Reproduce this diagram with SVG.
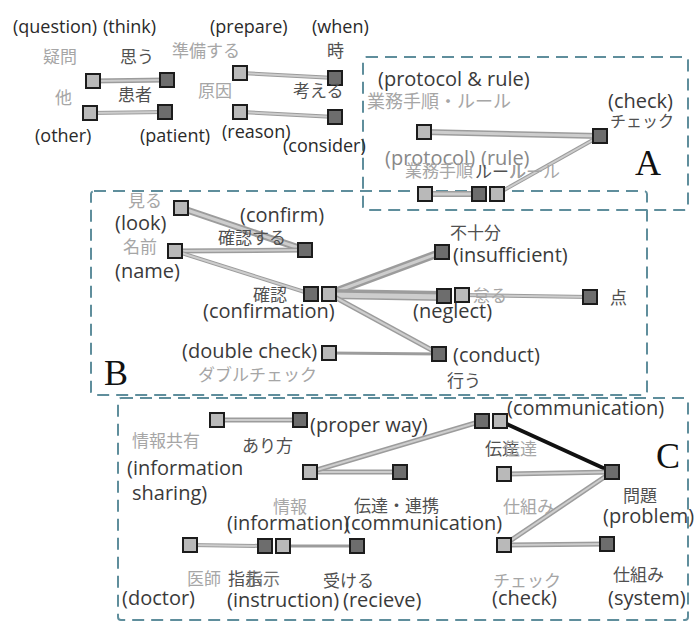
<svg xmlns="http://www.w3.org/2000/svg" width="697" height="623" viewBox="0 0 697 623">
<style>
.bg{fill:#fff}
.box{fill:none;stroke:#5f8e9c;stroke-width:2;stroke-dasharray:12 7}
.e{stroke:#9c9c9c;stroke-linecap:butt;fill:none}
.ei{stroke:#cdcdcd;fill:none}
.lt{fill:#b9b9b9;stroke:#1c1c1c;stroke-width:2}
.dk{fill:#6d6d6d;stroke:#1c1c1c;stroke-width:2}
.en{font-family:"Open Sans","Liberation Sans",sans-serif;font-size:20px;fill:#3a3a3a}
.en18{font-family:"Open Sans","Liberation Sans",sans-serif;font-size:18px;fill:#2a2a2a}
.jl{font-family:"Noto Sans CJK JP","Noto Sans",sans-serif;font-size:17px;fill:#a6a6a6}
.jd{font-family:"Noto Sans CJK JP","Noto Sans",sans-serif;font-size:17px;fill:#505050}
.big{font-family:"Liberation Serif",serif;font-size:36px;fill:#111}
</style>
<rect class="bg" x="0" y="0" width="697" height="623"/>
<g id="groups">
<rect class="box" x="363" y="57" width="325" height="153" rx="3"/>
<rect class="box" x="91" y="191" width="556" height="204" rx="3"/>
<rect class="box" x="118" y="398" width="570" height="222" rx="3"/>
<text class="big" x="635" y="175">A</text>
<text class="big" x="104" y="385">B</text>
<text class="big" x="656" y="468">C</text>
</g>
<g id="connectors">
<line class="e" x1="93" y1="81" x2="167" y2="80" stroke-width="5"/>
<line class="ei" x1="93" y1="81" x2="167" y2="80" stroke-width="2"/>
<line class="e" x1="90" y1="113" x2="165" y2="112" stroke-width="4"/>
<line class="ei" x1="90" y1="113" x2="165" y2="112" stroke-width="2"/>
<line class="e" x1="240" y1="73" x2="335" y2="78" stroke-width="4"/>
<line class="ei" x1="240" y1="73" x2="335" y2="78" stroke-width="2"/>
<line class="e" x1="240" y1="112" x2="335" y2="117" stroke-width="4"/>
<line class="ei" x1="240" y1="112" x2="335" y2="117" stroke-width="2"/>
<line class="e" x1="424" y1="132" x2="600" y2="136" stroke-width="6"/>
<line class="ei" x1="424" y1="132" x2="600" y2="136" stroke-width="3"/>
<line class="e" x1="600" y1="136" x2="497" y2="194" stroke-width="4"/>
<line class="ei" x1="600" y1="136" x2="497" y2="194" stroke-width="2"/>
<line class="e" x1="425" y1="194" x2="479" y2="194" stroke-width="6"/>
<line class="ei" x1="425" y1="194" x2="479" y2="194" stroke-width="3"/>
<line class="e" x1="181" y1="208" x2="305" y2="250" stroke-width="7"/>
<line class="ei" x1="181" y1="208" x2="305" y2="250" stroke-width="3"/>
<line class="e" x1="175" y1="251" x2="305" y2="250" stroke-width="5"/>
<line class="ei" x1="175" y1="251" x2="305" y2="250" stroke-width="2"/>
<line class="e" x1="175" y1="251" x2="311" y2="294" stroke-width="4"/>
<line class="ei" x1="175" y1="251" x2="311" y2="294" stroke-width="2"/>
<line class="e" x1="329" y1="294" x2="442" y2="252" stroke-width="8" stroke="#8e8e8e"/>
<line class="ei" x1="329" y1="294" x2="442" y2="252" stroke-width="3" stroke="#b4b4b4"/>
<line class="e" x1="329" y1="294" x2="444" y2="296" stroke-width="10" stroke="#2e2e2e"/>
<line class="ei" x1="329" y1="295" x2="444" y2="297" stroke-width="5" stroke="#7a7a7a"/>
<line class="e" x1="329" y1="294" x2="439" y2="354" stroke-width="5"/>
<line class="ei" x1="329" y1="294" x2="439" y2="354" stroke-width="2"/>
<line class="e" x1="329" y1="353" x2="439" y2="354" stroke-width="3"/>
<line class="e" x1="462" y1="295" x2="590" y2="297" stroke-width="4"/>
<line class="ei" x1="462" y1="295" x2="590" y2="297" stroke-width="2"/>
<line class="e" x1="217" y1="420" x2="300" y2="420" stroke-width="5"/>
<line class="ei" x1="217" y1="420" x2="300" y2="420" stroke-width="2"/>
<line class="e" x1="310" y1="472" x2="400" y2="472" stroke-width="5"/>
<line class="ei" x1="310" y1="472" x2="400" y2="472" stroke-width="2"/>
<line class="e" x1="310" y1="472" x2="482" y2="421" stroke-width="5"/>
<line class="ei" x1="310" y1="472" x2="482" y2="421" stroke-width="2"/>
<line x1="500" y1="421" x2="612" y2="472" stroke="#111" stroke-width="4"/>
<line class="e" x1="504" y1="474" x2="612" y2="472" stroke-width="5"/>
<line class="ei" x1="504" y1="474" x2="612" y2="472" stroke-width="2"/>
<line class="e" x1="504" y1="545" x2="612" y2="472" stroke-width="5"/>
<line class="ei" x1="504" y1="545" x2="612" y2="472" stroke-width="2"/>
<line class="e" x1="504" y1="545" x2="607" y2="544" stroke-width="5"/>
<line class="ei" x1="504" y1="545" x2="607" y2="544" stroke-width="2"/>
<line class="e" x1="190" y1="545" x2="265" y2="546" stroke-width="4"/>
<line class="ei" x1="190" y1="545" x2="265" y2="546" stroke-width="2"/>
<line class="e" x1="283" y1="546" x2="357" y2="546" stroke-width="3"/>
</g>
<g id="n-question"><rect class="lt" x="86" y="74" width="14" height="14"/><text class="en18" x="13" y="33">(question)</text><text class="jl" x="43" y="63">疑問</text></g>
<g id="n-think"><rect class="dk" x="160" y="73" width="14" height="14"/><text class="en18" x="103" y="33">(think)</text><text class="jd" x="120" y="63">思う</text></g>
<g id="n-other"><rect class="lt" x="83" y="106" width="14" height="14"/><text class="jl" x="55" y="104">他</text><text class="en18" x="35" y="142">(other)</text></g>
<g id="n-patient"><rect class="dk" x="158" y="105" width="14" height="14"/><text class="jd" x="118" y="101">患者</text><text class="en18" x="140" y="142">(patient)</text></g>
<g id="n-prepare"><rect class="lt" x="233" y="66" width="14" height="14"/><text class="en18" x="210" y="33">(prepare)</text><text class="jl" x="172" y="57">準備する</text></g>
<g id="n-when"><rect class="dk" x="328" y="71" width="14" height="14"/><text class="en18" x="312" y="33">(when)</text><text class="jd" x="327" y="57">時</text></g>
<g id="n-reason"><rect class="lt" x="233" y="105" width="14" height="14"/><text class="jl" x="198" y="97">原因</text><text class="en18" x="222" y="138">(reason)</text></g>
<g id="n-consider"><rect class="dk" x="328" y="110" width="14" height="14"/><text class="jd" x="293" y="97">考える</text><text class="en18" x="283" y="152">(consider)</text></g>
<g id="a-protocol-rule"><rect class="lt" x="417" y="125" width="14" height="14"/><text class="en" x="378" y="86">(protocol &amp; rule)</text><text class="jl" x="367" y="108" style="font-size:18px">業務手順・ルール</text></g>
<g id="a-check"><rect class="dk" x="593" y="129" width="14" height="14"/><text class="en" x="608" y="108">(check)</text><text class="jd" x="610" y="127" style="font-size:16px">チェック</text></g>
<g id="a-protocol"><rect class="lt" x="418" y="187" width="14" height="14"/><text class="en" x="385" y="165" style="fill:#888">(protocol)</text><text class="jl" x="405" y="177">業務手順</text></g>
<g id="a-rule1"><rect class="dk" x="472" y="187" width="14" height="14"/><text class="en" x="481" y="165" style="fill:#888">(rule)</text><text class="jd" x="475" y="178">ルール</text></g>
<g id="a-rule2"><rect class="lt" x="490" y="187" width="14" height="14"/><text class="jl" x="509" y="178">ルール</text></g>
<g id="b-look"><rect class="lt" x="174" y="201" width="14" height="14"/><text class="jl" x="128" y="207">見る</text><text class="en" x="115" y="230">(look)</text></g>
<g id="b-name"><rect class="lt" x="168" y="244" width="14" height="14"/><text class="jl" x="123" y="253">名前</text><text class="en" x="115" y="278">(name)</text></g>
<g id="b-confirm"><rect class="dk" x="298" y="243" width="14" height="14"/><text class="en" x="240" y="222">(confirm)</text><text class="jd" x="218" y="244">確認する</text></g>
<g id="b-confirmation1"><rect class="dk" x="304" y="287" width="14" height="14"/><text class="jd" x="253" y="301">確認</text></g>
<g id="b-confirmation2"><rect class="lt" x="322" y="287" width="14" height="14"/><text class="en" x="203" y="318">(confirmation)</text></g>
<g id="b-doublecheck"><rect class="lt" x="322" y="346" width="14" height="14"/><text class="en" x="182" y="358">(double check)</text><text class="jl" x="198" y="381">ダブルチェック</text></g>
<g id="b-insufficient"><rect class="dk" x="435" y="245" width="14" height="14"/><text class="jd" x="450" y="239">不十分</text><text class="en" x="453" y="262">(insufficient)</text></g>
<g id="b-neglect1"><rect class="dk" x="437" y="289" width="14" height="14"/><text class="en" x="413" y="318">(neglect)</text></g>
<g id="b-neglect2"><rect class="lt" x="455" y="288" width="14" height="14"/><text class="jl" x="473" y="302">怠る</text></g>
<g id="b-point"><rect class="dk" x="583" y="290" width="14" height="14"/><text class="jd" x="610" y="304">点</text></g>
<g id="b-conduct"><rect class="dk" x="432" y="347" width="14" height="14"/><text class="en" x="453" y="362">(conduct)</text><text class="jd" x="447" y="387">行う</text></g>
<g id="c-infoshare"><rect class="lt" x="210" y="413" width="14" height="14"/><text class="jl" x="132" y="447">情報共有</text><text class="en" x="127" y="475">(information</text><text class="en" x="132" y="500">sharing)</text></g>
<g id="c-properway"><rect class="dk" x="293" y="413" width="14" height="14"/><text class="en" x="310" y="432">(proper way)</text><text class="jd" x="242" y="452">あり方</text></g>
<g id="c-information"><rect class="lt" x="303" y="465" width="14" height="14"/><text class="jl" x="273" y="513">情報</text><text class="en" x="227" y="530">(information)</text></g>
<g id="c-communication2"><rect class="dk" x="393" y="465" width="14" height="14"/><text class="jd" x="354" y="512">伝達・連携</text><text class="en" x="345" y="530">(communication)</text></g>
<g id="c-transmit1"><rect class="dk" x="475" y="414" width="14" height="14"/><text class="jd" x="485" y="455">伝達</text></g>
<g id="c-transmit2"><rect class="lt" x="493" y="414" width="14" height="14"/><text class="en" x="507" y="415">(communication)</text><text class="jl" x="503" y="455">伝達</text></g>
<g id="c-system1"><rect class="lt" x="497" y="467" width="14" height="14"/><text class="jl" x="503" y="513">仕組み</text></g>
<g id="c-problem"><rect class="dk" x="605" y="465" width="14" height="14"/><text class="jd" x="623" y="502">問題</text><text class="en" x="603" y="523">(problem)</text></g>
<g id="c-check"><rect class="lt" x="497" y="538" width="14" height="14"/><text class="jl" x="493" y="587">チェック</text><text class="en" x="492" y="605">(check)</text></g>
<g id="c-system2"><rect class="dk" x="600" y="537" width="14" height="14"/><text class="jd" x="613" y="581">仕組み</text><text class="en" x="608" y="605">(system)</text></g>
<g id="c-doctor"><rect class="lt" x="183" y="538" width="14" height="14"/><text class="jl" x="187" y="585">医師</text><text class="en" x="122" y="605">(doctor)</text></g>
<g id="c-instruction1"><rect class="dk" x="258" y="539" width="14" height="14"/><text class="jd" x="228" y="585">指示</text><text class="en" x="227" y="607">(instruction)</text></g>
<g id="c-instruction2"><rect class="lt" x="276" y="539" width="14" height="14"/><text class="jd" x="246" y="585" style="fill:#707070">指示</text></g>
<g id="c-receive"><rect class="dk" x="350" y="539" width="14" height="14"/><text class="jd" x="323" y="587">受ける</text><text class="en" x="343" y="607">(recieve)</text></g>
</svg>
